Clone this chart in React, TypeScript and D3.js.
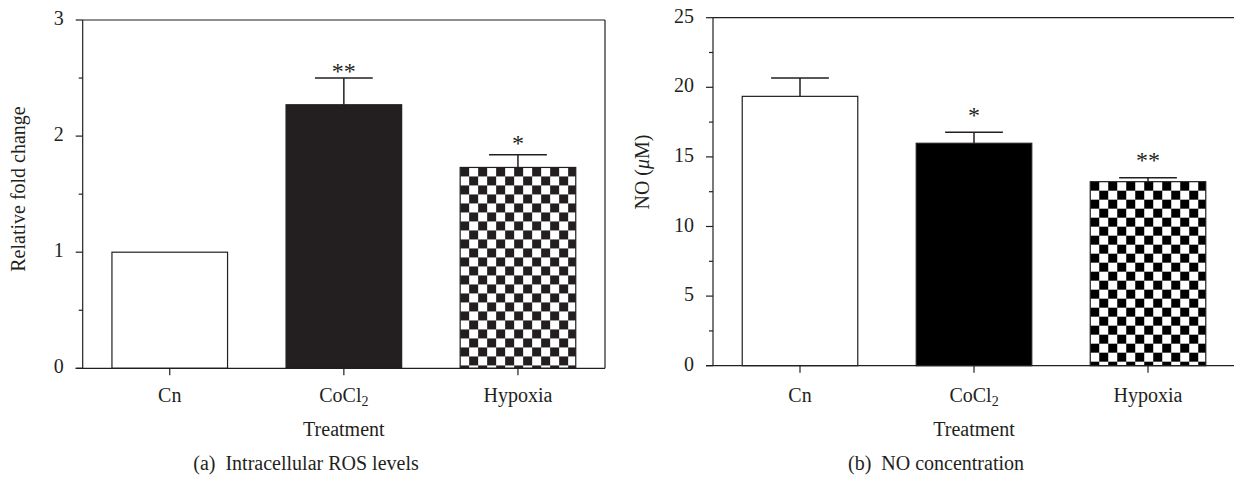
import React from "react";
import * as d3 from "d3";

// ---------- data ----------
const categories = ["Cn", "CoCl2", "Hypoxia"];

const rosValues = [1.0, 2.27, 1.73];
const rosErrors = [0, 0.23, 0.11];
const rosMarks = ["", "**", "*"];
const rosMarkY = [null, 2.59, 1.97];
const rosMajorTicks = [0, 1, 2, 3];
const rosMinorTicks = [0.5, 1.5, 2.5];

const noValues = [19.35, 15.98, 13.22];
const noErrors = [1.32, 0.79, 0.28];
const noMarks = ["", "*", "**"];
const noMarkY = [null, 18.26, 15.01];
const noMajorTicks = [0, 5, 10, 15, 20, 25];
const noMinorTicks = [2.5, 7.5, 12.5, 17.5, 22.5];

const FONT = "'Liberation Serif', 'Times New Roman', serif";

type PanelProps = {
  id: string;
  x0: number;
  x1: number;
  yTop: number;
  yBottom: number;
  domainMax: number;
  values: number[];
  errors: number[];
  marks: string[];
  markY: (number | null)[];
  majorTicks: number[];
  minorTicks: number[];
  ink: string;
  solid: string;
  yTitle: React.ReactNode;
  yTitleX: number;
  yTitleY: number;
  caption: string;
  captionX: number;
  rightBorder: boolean;
};

function Panel(p: PanelProps) {
  const x = d3
    .scaleBand<string>()
    .domain(categories)
    .range([p.x0, p.x1])
    .paddingInner(0.336)
    .paddingOuter(0.168);
  const y = d3.scaleLinear().domain([0, p.domainMax]).range([p.yBottom, p.yTop]);
  const bw = x.bandwidth();
  const cell = 9;
  const lw = 1.2;

  return (
    <g>
      <defs>
        {categories.map((c, i) => {
          const bx = x(c)!;
          const by = y(p.values[i]);
          return (
            <pattern
              key={c}
              id={`${p.id}-checker-${i}`}
              patternUnits="userSpaceOnUse"
              x={bx}
              y={by}
              width={cell * 2}
              height={cell * 2}
            >
              <rect x={0} y={0} width={cell * 2} height={cell * 2} fill="#fff" />
              <rect x={0} y={0} width={cell} height={cell} fill={p.solid} />
              <rect x={cell} y={cell} width={cell} height={cell} fill={p.solid} />
            </pattern>
          );
        })}
      </defs>

      {/* bars */}
      {categories.map((c, i) => {
        const bx = x(c)!;
        const by = y(p.values[i]);
        const fill =
          i === 0 ? "#fff" : i === 1 ? p.solid : `url(#${p.id}-checker-${i})`;
        return (
          <rect
            key={c}
            x={bx}
            y={by}
            width={bw}
            height={y(0) - by}
            fill={fill}
            stroke={p.ink}
            strokeWidth={lw}
          />
        );
      })}

      {/* error bars */}
      {categories.map((c, i) => {
        if (!p.errors[i]) return null;
        const cx = x(c)! + bw / 2;
        const top = y(p.values[i] + p.errors[i]);
        return (
          <g key={c} stroke={p.ink} strokeWidth={lw + 0.3}>
            <line x1={cx} x2={cx} y1={y(p.values[i])} y2={top} />
            <line x1={cx - bw / 4} x2={cx + bw / 4} y1={top} y2={top} />
          </g>
        );
      })}

      {/* significance marks */}
      {categories.map((c, i) => {
        const my = p.markY[i];
        if (!p.marks[i] || my == null) return null;
        const cx = x(c)! + bw / 2;
        return (
          <text
            key={c}
            x={cx}
            y={y(my) + 11.5}
            textAnchor="middle"
            fontFamily={FONT}
            fontSize={24}
            fill={p.ink}
          >
            {p.marks[i]}
          </text>
        );
      })}

      {/* frame / axes */}
      <g stroke={p.ink} strokeWidth={lw} fill="none">
        <line x1={p.x0} x2={p.x0} y1={p.yTop} y2={p.yBottom} />
        <line x1={p.x0 - 7} x2={p.x1} y1={p.yBottom} y2={p.yBottom} />
        <line x1={p.x0} x2={p.x1} y1={p.yTop} y2={p.yTop} />
        {p.rightBorder && <line x1={p.x1} x2={p.x1} y1={p.yTop} y2={p.yBottom} />}
        {p.majorTicks.map((t) => (
          <line key={"M" + t} x1={p.x0 - 7} x2={p.x0} y1={y(t)} y2={y(t)} />
        ))}
        {p.minorTicks.map((t) => (
          <line key={"m" + t} x1={p.x0 - 4} x2={p.x0} y1={y(t)} y2={y(t)} />
        ))}
        {categories.map((c) => {
          const cx = x(c)! + bw / 2;
          return <line key={c} x1={cx} x2={cx} y1={p.yBottom} y2={p.yBottom + 7} />;
        })}
      </g>

      {/* y tick labels */}
      {p.majorTicks.map((t) => (
        <text
          key={t}
          x={p.x0 - 19}
          y={y(t) + 5}
          textAnchor="end"
          fontFamily={FONT}
          fontSize={20}
          fill="#231f20"
        >
          {t}
        </text>
      ))}

      {/* category labels */}
      {categories.map((c) => {
        const cx = x(c)! + bw / 2;
        return (
          <text
            key={c}
            x={cx}
            y={402}
            textAnchor="middle"
            fontFamily={FONT}
            fontSize={20}
            fill="#231f20"
          >
            {c === "CoCl2" ? (
              <>
                CoCl
                <tspan fontSize={14} dy={4}>
                  2
                </tspan>
              </>
            ) : (
              c
            )}
          </text>
        );
      })}

      {/* x title */}
      <text
        x={(p.x0 + p.x1) / 2}
        y={436}
        textAnchor="middle"
        fontFamily={FONT}
        fontSize={20}
        fill="#231f20"
      >
        Treatment
      </text>

      {/* y title */}
      <text
        transform={`translate(${p.yTitleX},${p.yTitleY}) rotate(-90)`}
        textAnchor="middle"
        fontFamily={FONT}
        fontSize={20}
        fill="#231f20"
      >
        {p.yTitle}
      </text>

      {/* caption */}
      <text
        x={p.captionX}
        y={470}
        textAnchor="middle"
        fontFamily={FONT}
        fontSize={20}
        fill="#231f20"
        style={{ whiteSpace: "pre" }}
      >
        {p.caption}
      </text>
    </g>
  );
}

export default function App() {
  return (
    <div style={{ position: "absolute", left: 0, top: 0 }}>
      <svg width={1234} height={483} style={{ display: "block", background: "#fff" }}>
        <rect x={0} y={0} width={1234} height={483} fill="#fff" />
        <Panel
          id="a"
          x0={82.7}
          x1={605}
          yTop={20}
          yBottom={368.3}
          domainMax={3}
          values={rosValues}
          errors={rosErrors}
          marks={rosMarks}
          markY={rosMarkY}
          majorTicks={rosMajorTicks}
          minorTicks={rosMinorTicks}
          ink="#231f20"
          solid="#231f20"
          yTitle="Relative fold change"
          yTitleX={25}
          yTitleY={189}
          caption={"(a)  Intracellular ROS levels"}
          captionX={306}
          rightBorder={true}
        />
        <Panel
          id="b"
          x0={713}
          x1={1235}
          yTop={17.7}
          yBottom={365.7}
          domainMax={25}
          values={noValues}
          errors={noErrors}
          marks={noMarks}
          markY={noMarkY}
          majorTicks={noMajorTicks}
          minorTicks={noMinorTicks}
          ink="#231f20"
          solid="#000"
          yTitle={
            <>
              NO (<tspan fontStyle="italic">μ</tspan>M)
            </>
          }
          yTitleX={649}
          yTitleY={172}
          caption={"(b)  NO concentration"}
          captionX={936}
          rightBorder={true}
        />
      </svg>
    </div>
  );
}
